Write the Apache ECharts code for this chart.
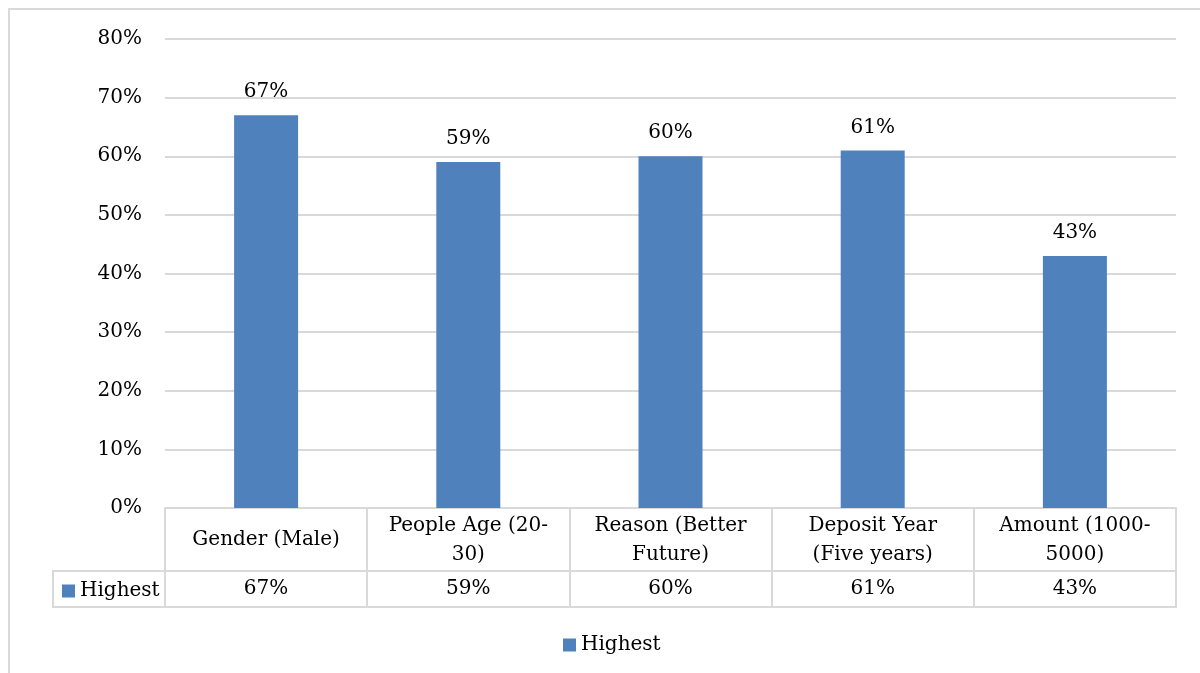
<!DOCTYPE html>
<html>
<head>
<meta charset="utf-8">
<script src="https://cdn.jsdelivr.net/npm/echarts@6/dist/echarts.min.js"></script>
<style>
  html, body { margin: 0; padding: 0; background: #fff; }
  #mychart { width: 1200px; height: 673px; }
</style>
</head>
<body>
<div id="mychart"></div>
<script>
const categories = ['Gender (Male)', 'People Age (20-\n30)', 'Reason (Better\nFuture)', 'Deposit Year\n(Five years)', 'Amount (1000-\n5000)']
const highest = [0.67, 0.59, 0.60, 0.61, 0.43]
const seriesName = 'Highest'

const font = 'DejaVu Serif'
const lineColor = '#d9d9d9'
const pct = v => Math.round(v * 100) + '%'

const mychart = echarts.init(document.getElementById('mychart'))

mychart.setOption({
  animation: false,
  textStyle: { fontFamily: font },
  grid: { left: 165, right: 24, top: 39, bottom: 165 }, // table starts at the bottom of the grid
  legend: [
    { // key inside the data table
      data: [seriesName],
      left: 57,
      top: 576,
      icon: 'rect',
      itemWidth: 13,
      itemHeight: 13,
      textStyle: { fontFamily: font, fontSize: 20, color: '#000' }
    },
    {
      data: [seriesName],
      left: 558,
      top: 630,
      icon: 'rect',
      itemWidth: 13,
      itemHeight: 13,
      textStyle: { fontFamily: font, fontSize: 20, color: '#000' }
    }
  ],
  xAxis: [
    {
      type: 'category',
      data: categories,
      axisLine: { lineStyle: { color: lineColor, width: 2 } },
      axisTick: { show: true, interval: 0, length: 99, lineStyle: { color: lineColor, width: 2 } },
      axisLabel: {
        interval: 0,
        margin: 32,
        verticalAlign: 'middle',
        lineHeight: 29,
        fontFamily: font,
        fontSize: 20,
        color: '#000'
      }
    },
    { // value row of the table
      type: 'category',
      position: 'bottom',
      offset: 63,
      data: highest.map(pct),
      axisLine: { show: true, lineStyle: { color: lineColor, width: 2 } },
      axisTick: { show: true, interval: 0, length: 36, lineStyle: { color: lineColor, width: 2 } },
      axisLabel: {
        interval: 0,
        margin: 18,
        verticalAlign: 'middle',
        fontFamily: font,
        fontSize: 20,
        color: '#000'
      }
    }
  ],
  yAxis: {
    type: 'value',
    min: 0,
    max: 0.8,
    interval: 0.1,
    axisLine: { show: false },
    axisTick: { show: false },
    axisLabel: {
      margin: 23,
      formatter: pct,
      fontFamily: font,
      fontSize: 20,
      color: '#000'
    },
    splitLine: { lineStyle: { color: lineColor, width: 2 } }
  },
  series: [{
    name: seriesName,
    type: 'bar',
    data: highest,
    barWidth: 64,
    itemStyle: { color: '#4f81bd' },
    label: {
      show: true,
      position: 'top',
      distance: 13,
      formatter: p => pct(p.value),
      fontFamily: font,
      fontSize: 20,
      color: '#000'
    }
  }],
  graphic: [
    // outer frame
    { type: 'line', shape: { x1: 8, y1: 9, x2: 1200, y2: 9 }, style: { stroke: lineColor, lineWidth: 2 } },
    { type: 'line', shape: { x1: 9, y1: 8, x2: 9, y2: 673 }, style: { stroke: lineColor, lineWidth: 2 } },
    // series cell of the table
    { type: 'line', shape: { x1: 53, y1: 571, x2: 165, y2: 571 }, style: { stroke: lineColor, lineWidth: 2 } },
    { type: 'line', shape: { x1: 53, y1: 570, x2: 53, y2: 608 }, style: { stroke: lineColor, lineWidth: 2 } },
    { type: 'line', shape: { x1: 53, y1: 607, x2: 1177, y2: 607 }, style: { stroke: lineColor, lineWidth: 2 } }
  ]
})
</script>
</body>
</html>
